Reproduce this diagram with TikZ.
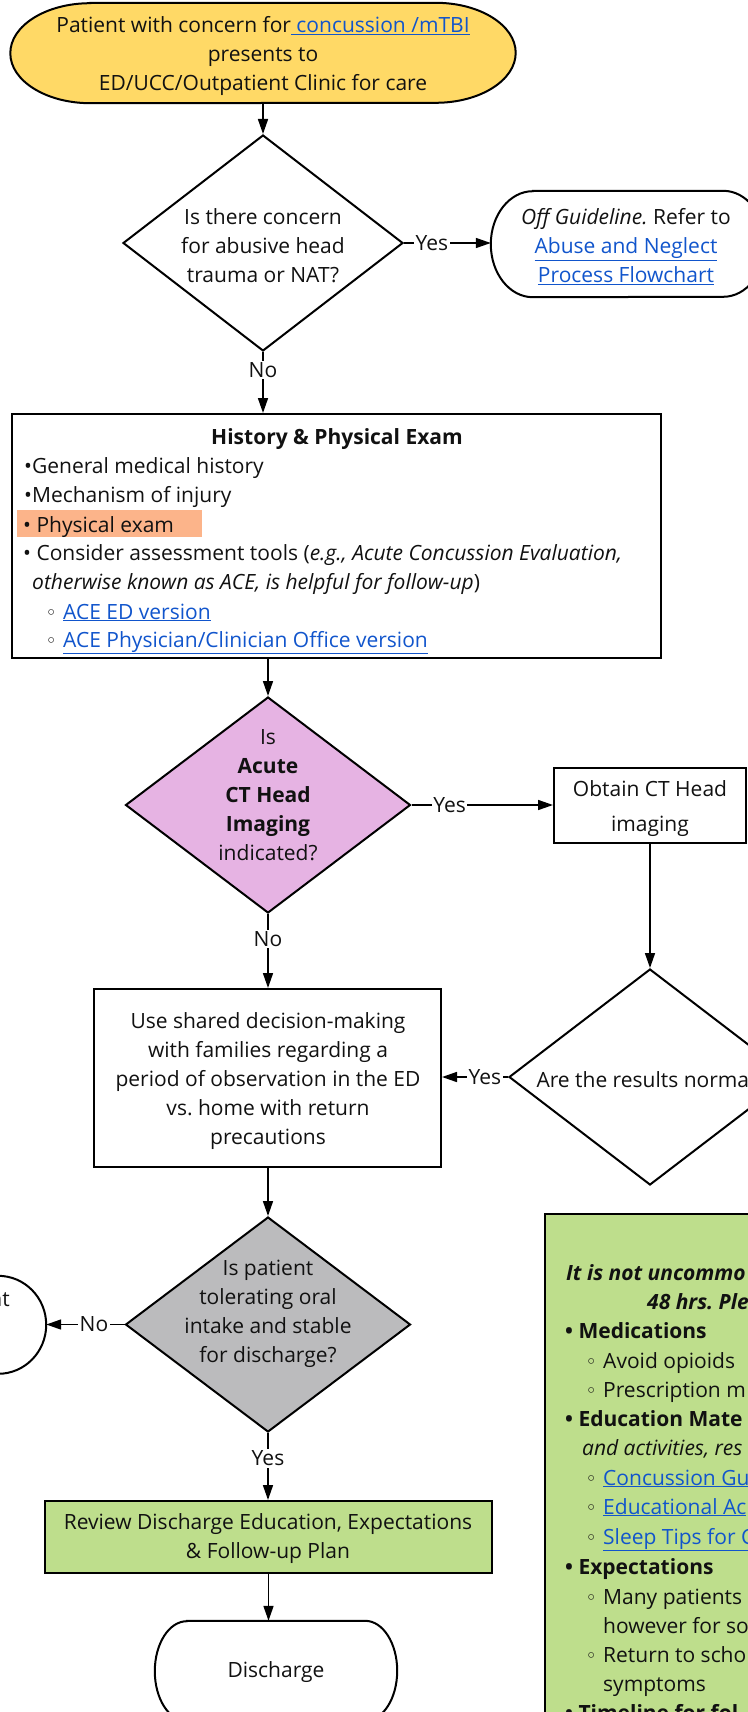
\documentclass[tikz,border=0pt]{standalone}
\usepackage{fontspec}
\setmainfont{Open Sans}
\newfontfamily\symfont{DejaVu Sans}
\usetikzlibrary{arrows.meta,shapes.geometric,backgrounds}

\definecolor{ovalyellow}{HTML}{FFD966}
\definecolor{decpurple}{HTML}{E6B3E3}
\definecolor{decgray}{HTML}{BBBBBD}
\definecolor{actgreen}{HTML}{BEDE8C}
\definecolor{hilite}{HTML}{FCB48A}
\definecolor{linkblue}{HTML}{1155CC}
\definecolor{ink}{HTML}{111111}

\frenchspacing

% hyperlink-looking text
\newcommand\lnk[1]{{\color{linkblue}\underline{#1}}}
% hollow sub-bullet in a fixed slot
\newcommand\subb{\makebox[24pt][c]{\symfont\fontsize{19}{19}\selectfont ◦}}

% terminator outline with elliptical ends, drawn behind node #1
\newcommand\stadium[4]{%
  \begin{scope}[on background layer]
    \draw[shapeline, fill=#4]
      ([xshift=#2]#1.north west) -- ([xshift=-#2]#1.north east)
      arc[start angle=90, end angle=-90, x radius=#2, y radius=#3]
      -- ([xshift=#2]#1.south west)
      arc[start angle=270, end angle=90, x radius=#2, y radius=#3] -- cycle;
  \end{scope}}

\tikzset{
  shapeline/.style={line width=2pt, draw=black},
  txt/.style={align=center, inner sep=0pt, text=ink},
  term/.style={rectangle, inner sep=0pt, align=center, text=ink},
  box/.style={rectangle, shapeline, inner sep=0pt, align=center, text=ink},
  dia/.style={diamond, shapeline, inner sep=0pt, fill=white},
  ln/.style={anchor=base west, inner sep=0pt, text=ink},
  arr/.style={line width=1.6pt, -{Triangle[length=15pt,width=10pt]}},
  lbl/.style={fill=white, inner sep=1.5pt, text=ink},
  every node/.style={font=\fontsize{21}{29}\selectfont},
}

\begin{document}
\begin{tikzpicture}[x=1pt, y=-1pt]
\useasboundingbox (0,0) rectangle (747,1712);

% ---------- start terminator ----------
\node[term, minimum width=505pt, minimum height=100pt] (start) at (263,53) {};
\node[txt] (startt) at (263,56)
  {Patient with concern for\lnk{ concussion /mTBI}\\presents to\\ED/UCC/Outpatient Clinic for care};
\stadium{start}{80pt}{50pt}{ovalyellow}

% ---------- abuse question ----------
\node[dia, minimum width=280pt, minimum height=216pt] (q1) at (263,243) {};
\node[txt] (q1t) at (263,246) {Is there concern\\for abusive head\\trauma or NAT?};

\node[term, minimum width=274pt, minimum height=106pt] (off) at (628,244) {};
\node[txt] (offt) at (626,247)
  {\textit{Off Guideline.} Refer to\\\lnk{Abuse and Neglect}\\\lnk{Process Flowchart}};
\stadium{off}{42pt}{53pt}{white}

% ---------- history & physical ----------
\node[box, minimum width=649pt, minimum height=244pt] (hp) at (336.5,536) {};
\node[txt, anchor=base] (hpt) at (337,444) {\bfseries History \& Physical Exam};
\node[ln] (hp1) at (24,473) {•General medical history};
\node[ln] (hp2) at (24,502) {•Mechanism of injury};
\fill[hilite] (17,510) rectangle (202,537);
\node[ln] (hp3) at (23,532) {• Physical exam};
\node[ln] (hp4) at (23,560) {• Consider assessment tools (\textit{e.g., Acute Concussion Evaluation,}};
\node[ln] (hp5) at (32,589) {\textit{otherwise known as ACE, is helpful for follow-up})};
\node[ln] (hp6) at (39,619) {\subb\lnk{ACE ED version}};
\node[ln] (hp7) at (39,647) {\subb\lnk{ACE Physician/Clinician Office version}};

% ---------- CT question ----------
\node[dia, fill=decpurple, minimum width=285pt, minimum height=216pt] (ct) at (268,805) {};
\node[txt] (ctt) at (268,795) {Is\\\textbf{Acute}\\\textbf{CT Head}\\\textbf{Imaging}\\indicated?};

\node[box, minimum width=192pt, minimum height=75pt] (obt) at (650,805.5) {};
\node[txt, font=\fontsize{21}{35}\selectfont] (obtt) at (650,809) {Obtain CT Head\\imaging};

\node[dia, minimum width=282pt, minimum height=216pt] (res) at (650,1077) {};
\node[txt] (rest) at (650,1080) {Are the results normal?};

\node[box, minimum width=347pt, minimum height=178pt] (sdm) at (267.5,1078) {};
\node[txt] (sdmt) at (268,1081)
  {Use shared decision-making\\with families regarding a\\period of observation in the ED\\vs. home with return\\precautions};

% ---------- oral intake question ----------
\node[dia, fill=decgray, minimum width=285pt, minimum height=215pt] (tol) at (268,1324.5) {};
\node[txt] (tolt) at (268,1314) {Is patient\\tolerating oral\\intake and stable\\for discharge?};

\node[term, minimum width=246pt, minimum height=98pt] (adm) at (-77,1325) {};
\stadium{adm}{48pt}{49pt}{white}
\node[inner sep=0pt, anchor=base east, text=ink] (admt) at (10,1306) {nt};

\node[box, fill=actgreen, minimum width=447pt, minimum height=72pt] (rev) at (268.5,1537) {};
\node[txt] (revt) at (268,1539)
  {Review Discharge Education, Expectations\\\& Follow-up Plan};

\node[term, minimum width=242pt, minimum height=100pt] (dis) at (276,1671) {};
\node[txt] (dist) at (276,1672) {Discharge};
\stadium{dis}{32pt}{50pt}{white}

% ---------- discharge information panel ----------
\node[box, fill=actgreen, anchor=north west, minimum width=320pt, minimum height=560pt] (info) at (544,1213) {};
\node[ln] (i1) at (566,1280) {\bfseries\itshape It is not uncommo};
\node[ln] (i2) at (647,1309) {\bfseries\itshape 48 hrs. Ple};
\node[ln] (i3) at (565,1338) {\bfseries • Medications};
\node[ln] (i4) at (579,1368) {\subb Avoid opioids};
\node[ln] (i5) at (579,1397) {\subb Prescription m};
\node[ln] (i6) at (565,1426) {\bfseries • Education Mate};
\node[ln] (i7) at (582,1455) {\itshape and activities, res};
\node[ln] (i8) at (579,1485) {\subb\lnk{Concussion Gu}};
\node[ln] (i9) at (579,1514) {\subb\lnk{Educational Ac}};
\node[ln] (i10) at (579,1544) {\subb\lnk{Sleep Tips for C}};
\node[ln] (i11) at (565,1574) {\bfseries • Expectations};
\node[ln] (i12) at (579,1604) {\subb Many patients};
\node[ln] (i13) at (603,1633) {however for so};
\node[ln] (i14) at (579,1662) {\subb Return to scho};
\node[ln] (i15) at (603,1691) {symptoms};
\node[ln] (i16) at (565,1720) {\bfseries • Timeline for fol};

% ---------- connectors ----------
\draw[arr] (start.south) -- (q1.north);
\draw[arr] (q1.east) -- node[lbl, pos=0.32] {Yes} (q1.east -| off.west);
\draw[arr] (q1.south) -- node[lbl, pos=0.3] {No} (q1.south |- hp.north);
\draw[arr] (ct.north |- hp.south) -- (ct.north);
\draw[arr] (ct.east) -- node[lbl, pos=0.27] {Yes} (ct.east -| obt.west);
\draw[arr] (ct.south) -- node[lbl, pos=0.34] {No} (ct.south |- sdm.north);
\draw[arr] (obt.south) -- (res.north);
\draw[arr] (res.west) -- node[lbl, pos=0.35] {Yes} (res.west -| sdm.east);
\draw[arr] (tol.north |- sdm.south) -- (tol.north);
\draw[arr] (tol.west) -- node[lbl, pos=0.39] {No} (tol.west -| adm.east);
\draw[arr] (tol.south) -- node[lbl, pos=0.38] {Yes} (tol.south |- rev.north);
\draw[arr] (rev.south) -- (rev.south |- dis.north);
\end{tikzpicture}
\end{document}
